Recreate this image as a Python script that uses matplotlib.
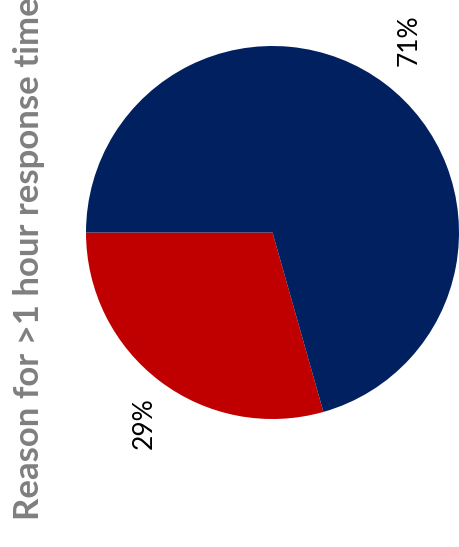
import matplotlib
matplotlib.use("Agg")
import matplotlib.pyplot as plt

title = "Reason for >1 hour response time"
shares = [29.4, 70.6]
labels = ["29%", "71%"]
colors = ["#C00000", "#002060"]

fig = plt.figure(figsize=(4.6, 5.47), dpi=100)
ax = fig.add_axes([0, 0, 1, 1])

# pie sits at (272.5, 232.5) px with radius 186.5 px
r = 186.5
ax.pie(shares, colors=colors, startangle=180, counterclock=True, radius=1,
       wedgeprops=dict(linewidth=0))
ax.set_xlim(-272.5 / r, (460 - 272.5) / r)
ax.set_ylim(-(547 - 232.5) / r, 232.5 / r)
ax.set_aspect("equal")
ax.axis("off")

label_pos = [(-0.69, -1.02), (0.73, 1.03)]
for (x, y), lab in zip(label_pos, labels):
    ax.text(x, y, lab, rotation=90, ha="center", va="center",
            fontsize=19, family="Lato", color="black")

fig.text(29 / 460, 1 - 520 / 547, title, rotation=90, rotation_mode="anchor",
         ha="left", va="center", fontsize=25, family="Lato", fontweight="bold",
         color="#7f7f7f")

fig.savefig("out.png", dpi=100)
